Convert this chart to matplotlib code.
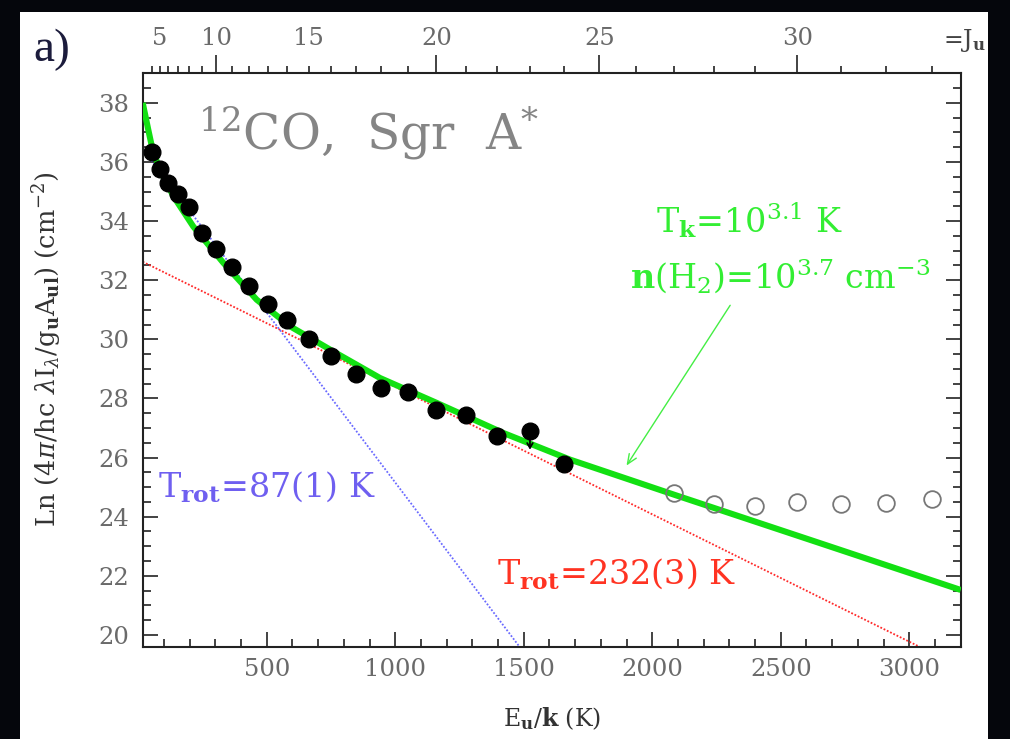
import matplotlib
matplotlib.use("Agg")
import matplotlib.pyplot as plt
from matplotlib.patches import Rectangle
from matplotlib.ticker import FixedLocator, FuncFormatter

plt.rcParams['font.family'] = ['DejaVu Serif']
plt.rcParams['mathtext.fontset'] = 'dejavuserif'

# ---- data ----
J_filled = [4, 5, 6, 7, 8, 9, 10, 11, 12, 13, 14, 15, 16, 17, 18, 19, 20, 21, 22, 23, 24]
E_filled = [55.3, 83.0, 116.2, 154.9, 199.1, 248.9, 304.2, 365.0, 431.3, 503.1, 580.5,
            663.4, 751.7, 845.6, 945.0, 1049.8, 1160.2, 1276.1, 1397.4, 1524.2, 1656.5]
lnN_filled = [36.33, 35.77, 35.29, 34.92, 34.48, 33.58, 33.07, 32.45, 31.79, 31.20, 30.64,
              30.01, 29.42, 28.81, 28.36, 28.23, 27.62, 27.45, 26.72, 26.89, 25.78]
upper_limit_J = 23
upper_limit_to = 26.17

J_open = [27, 28, 29, 30, 31, 32, 33]
E_open = [2086.0, 2240.0, 2399.3, 2564.0, 2733.9, 2909.1, 3089.4]
lnN_open = [24.80, 24.44, 24.37, 24.51, 24.44, 24.46, 24.60]

# LVG model curve
model_E = [17.5, 39, 55, 83, 137, 214, 331, 461, 591, 759, 941, 1161, 1421, 1680, 2086, 2640, 3200]
model_lnN = [38.0, 37.1, 36.45, 35.75, 34.84, 33.82, 32.59, 31.34, 30.44, 29.59, 28.69,
             27.85, 26.83, 25.93, 24.74, 23.14, 21.52]

# rotational-diagram fits: intercept, T_rot
fit_cold = (36.65, 87.0)
fit_warm = (32.70, 232.0)

# top axis: J_u and upper-level energies
J_top = list(range(4, 34))
E_top = [55.3, 83.0, 116.2, 154.9, 199.1, 248.9, 304.2, 365.0, 431.3, 503.1, 580.5, 663.4,
         751.7, 845.6, 945.0, 1049.8, 1160.2, 1276.1, 1397.4, 1524.2, 1656.5, 1794.2,
         1937.4, 2086.0, 2240.0, 2399.3, 2564.0, 2733.9, 2909.1, 3089.4]
J_top_major = [10, 20, 25, 30]
J_top_labels = [5, 10, 15, 20, 25, 30]

x_major = [500, 1000, 1500, 2000, 2500, 3000]
y_major = [20, 22, 24, 26, 28, 30, 32, 34, 36, 38]

# ---- figure ----
W, H = 1010, 739
fig = plt.figure(figsize=(W / 100, H / 100), dpi=100, facecolor='#05060c')
fig.patches.append(Rectangle((20 / W, 0), (988 - 20) / W, (H - 12) / H,
                             transform=fig.transFigure, facecolor='white',
                             edgecolor='none', zorder=-5))

ax = fig.add_axes([142.7 / W, 1 - 646.7 / H, (960.7 - 142.7) / W, (646.7 - 73.3) / H])
ax.set_facecolor('white')
xmin, xmax = 17.5, 3200
ax.set_xlim(xmin, xmax)
ax.set_ylim(19.6, 39.0)

tick_col = '#6a6a6a'
for s in ax.spines.values():
    s.set_linewidth(1.5)
    s.set_color('#222222')

ax.xaxis.set_major_locator(FixedLocator(x_major))
ax.xaxis.set_minor_locator(FixedLocator([v for v in range(100, 3201, 100) if v % 500]))
ax.yaxis.set_major_locator(FixedLocator(y_major))
ax.yaxis.set_minor_locator(FixedLocator([19.5 + 0.5 * i for i in range(40) if (19.5 + 0.5 * i) % 2]))
ax.tick_params(which='both', direction='in', top=False, right=True, width=1.2, colors='#222222')
ax.tick_params(which='major', length=10.8)
ax.tick_params(which='minor', length=5.8)
ax.tick_params(axis='x', which='major', pad=8, labelsize=17.5, labelcolor=tick_col)
ax.tick_params(axis='y', which='major', pad=10, labelsize=17.5, labelcolor=tick_col)

# lines
xs = [xmin, xmax]
ax.plot(xs, [fit_warm[0] - x / fit_warm[1] for x in xs], color='#ff2a2a',
        lw=1.3, ls=(0, (1, 1)), zorder=2)
ax.plot(xs, [fit_cold[0] - x / fit_cold[1] for x in xs], color='#6a6aff',
        lw=1.3, ls=(0, (1, 1)), zorder=2)
ax.plot(model_E, model_lnN, color='#12e012', lw=4.4, solid_capstyle='butt', zorder=3)

# points
ax.plot(E_filled, lnN_filled, 'o', color='black', ms=12, zorder=5)
ax.plot(E_open, lnN_open, 'o', mfc='none', mec='#777777', mew=1.3, ms=12, zorder=5)
iu = J_filled.index(upper_limit_J)
ax.annotate('', xy=(E_filled[iu], upper_limit_to), xytext=(E_filled[iu], lnN_filled[iu]),
            arrowprops=dict(arrowstyle='->,head_length=0.35,head_width=0.2', color='black', lw=1.3),
            zorder=6)

# annotations
fig.text(198 / W, 1 - 149 / H, r'$^{12}$CO,  Sgr  A$^{*}$', fontsize=35, color='#858585',
         ha='left', va='baseline')
fig.text(656 / W, 1 - 233 / H, r'T$_\mathbf{k}$=10$^{3.1}$ K', fontsize=24, color='#33ee33',
         ha='left', va='baseline')
fig.text(630 / W, 1 - 288 / H, r'$\mathbf{n}$(H$_2$)=10$^{3.7}$ cm$^{-3}$', fontsize=24,
         color='#33ee33', ha='left', va='baseline')
ax.annotate('', xy=(1894, 25.65), xytext=(2309, 31.23),
            arrowprops=dict(arrowstyle='->,head_length=0.7,head_width=0.3', color='#44ee44', lw=1.0))
fig.text(158 / W, 1 - 497 / H, r'T$_\mathbf{rot}$=87(1) K', fontsize=24, color='#6f5ff0',
         ha='left', va='baseline')
fig.text(497 / W, 1 - 584 / H, r'T$_\mathbf{rot}$=232(3) K', fontsize=24, color='#ff3322',
         ha='left', va='baseline')

# axis labels
ax.set_xlabel(r'E$_\mathbf{u}$/$\mathbf{k}$ (K)', fontsize=17, color='#333333')
ax.xaxis.set_label_coords(0.5, (646.7 - 705) / 573.4)
ax.set_ylabel(r'Ln (4$\pi$/hc $\lambda$I$_\lambda$/g$_\mathbf{u}$A$_\mathbf{ul}$) (cm$^{-2}$)',
              fontsize=18.5, color='#333333')
ax.yaxis.set_label_coords((64 - 142.7) / 818, (646.7 - 349) / 573.4)

# top J axis
ax2 = ax.twiny()
ax2.set_xlim(ax.get_xlim())
E_of_J = dict(zip(J_top, E_top))
ax2.xaxis.set_major_locator(FixedLocator([E_of_J[j] for j in J_top_major]))
ax2.xaxis.set_minor_locator(FixedLocator([E_of_J[j] for j in J_top if j not in J_top_major]))
J_of_E = {round(v, 1): k for k, v in E_of_J.items()}
def jfmt(v, pos):
    j = J_of_E.get(round(v, 1))
    return str(j) if j in J_top_labels else ''
ax2.xaxis.set_major_formatter(FuncFormatter(jfmt))
ax2.xaxis.set_minor_formatter(FuncFormatter(jfmt))
ax2.tick_params(which='both', direction='out', width=1.2, colors='#222222',
                labelsize=17.5, labelcolor=tick_col)
ax2.tick_params(which='major', length=13, pad=4)
ax2.tick_params(which='minor', length=5, pad=12)
for s in ax2.spines.values():
    s.set_visible(False)
fig.text(986 / W, 1 - 47 / H, r'=J$_\mathbf{u}$', fontsize=17, color='#444444',
         ha='right', va='baseline')
fig.text(52 / W, 1 - 50 / H, 'a)', fontsize=34, color='#1c1c3c', ha='center', va='center',
         family='Liberation Serif')

fig.savefig('out.png', dpi=100, facecolor=fig.get_facecolor())
